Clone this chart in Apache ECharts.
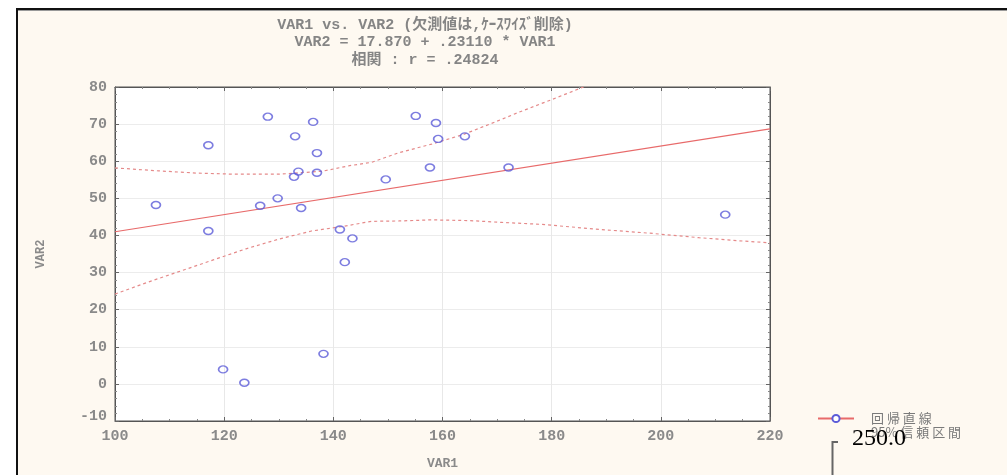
<!DOCTYPE html>
<html>
<head>
<meta charset="utf-8">
<script src="https://cdn.jsdelivr.net/npm/echarts@6/dist/echarts.min.js"></script>
<style>html,body{margin:0;padding:0;background:#fff;}#c{width:1007px;height:475px;}</style>
</head>
<body>
<div id="c"></div>
<script>
// scatter points (VAR1, VAR2)
const var1 = [107.5,117.1,117.1,128.0,126.6,129.8,133.0,133.6,132.8,134.1,136.3,137.0,137.0,141.2,143.5,142.1,149.6,155.1,158.8,159.2,157.7,164.1,172.1,211.8,138.2,119.8,123.7];
const var2 = [48.2,64.3,41.2,72.0,48.0,50.0,66.7,57.2,55.8,47.4,70.6,62.2,56.9,41.6,39.2,32.8,55.1,72.2,70.3,66.0,58.3,66.7,58.3,45.6,8.1,3.9,0.3];
// regression line end points
const fitX = [100, 220];
const fitY = [41.0, 68.7];
// 95% confidence band
const upX = [100,108,115,122,130,138,143,147,152,158,164,169,174,180,186,188];
const upY = [58.2,57.4,56.8,56.5,56.5,57.3,58.8,59.7,62.3,64.6,67.3,70.2,73.2,76.6,80.1,81.2];
const loX = [100,106,112,118,124,130,136,142,147,152,158,165,171,178,189,198,207,214,220];
const loY = [24.2,27.4,30.4,33.4,36.4,39.0,41.2,42.5,43.8,43.9,44.2,44.0,43.5,43.0,41.6,40.6,39.4,38.6,38.0];
const xTicks = {min:100, max:220, interval:20};
const yTicks = {min:-10, max:80, interval:10};

const zip = (a,b) => a.map((v,i)=>[v,b[i]]);
const txt = '#8a8a8a';
const mono = '"Liberation Mono", "Noto Sans CJK JP", monospace';

const chart = echarts.init(document.getElementById('c'));
chart.setOption({
  backgroundColor: '#ffffff',
  animation: false,
  graphic: [
    {type:'rect', z:-10, shape:{x:17, y:9, width:1000, height:480}, style:{fill:'#fef9f1'}},
    {type:'rect', z:-9, shape:{x:16, y:8, width:1000, height:2}, style:{fill:'#111'}},
    {type:'rect', z:-9, shape:{x:16, y:10, width:1000, height:1}, style:{fill:'#999'}},
    {type:'rect', z:-9, shape:{x:16, y:8, width:2, height:480}, style:{fill:'#111'}},
    {type:'polyline', z:50, shape:{points:[[838,442],[832.5,442],[832.5,476]]}, style:{stroke:'#666', lineWidth:2, fill:null}},
    {type:'text', z:51, x:852, y:439, style:{text:'250.0', font:'24px "Liberation Serif"', fill:'#000', verticalAlign:'middle'}}
  ],
  title: {
    text: 'VAR1 vs. VAR2 (欠測値は,ｹｰｽﾜｲｽﾞ削除)\nVAR2 = 17.870 + .23110 * VAR1\n相関 : r = .24824',
    left: 425, top: 16, padding: 0, textAlign: 'center',
    textStyle: {fontFamily: mono, fontSize: 15, fontWeight: 'bold', color: '#858585', lineHeight: 17.5}
  },
  legend: {
    orient: 'vertical', left: 817, top: 412, padding: 0, itemGap: 1,
    itemWidth: 36, itemHeight: 9,
    formatter: n => n.replace(/([^\s\d%])(?=[^\s\d%])/g, '$1 '),
    textStyle: {fontFamily: '"Noto Sans CJK JP"', fontSize: 13, color: '#7a7a7a', padding:[0,0,0,12]},
    data: [
      {name: '回帰直線'},
      {name: '95% 信頼区間', itemStyle:{opacity:0}, lineStyle:{opacity:0}}
    ]
  },
  grid: {left:115, top:87, width:655, height:340, show:true, backgroundColor:'#ffffff', borderColor:'#555', borderWidth:1},
  xAxis: [{
    type:'value', ...xTicks, name:'VAR1', nameLocation:'middle', nameGap:36,
    nameTextStyle:{fontFamily:mono, fontSize:13, fontWeight:'bold', color:txt},
    axisLine:{show:true, onZero:false, lineStyle:{color:'#555'}},
    axisTick:{show:true, inside:true, length:4, lineStyle:{color:'#666'}},
    minorTick:{show:true, splitNumber:4, length:2, lineStyle:{color:'#888'}},
    axisLabel:{margin:8, fontFamily:mono, fontSize:15, fontWeight:'bold', color:txt},
    splitLine:{show:true, lineStyle:{color:'#e8e8e8'}}
  },{
    type:'value', ...xTicks, position:'top',
    axisLine:{show:true, onZero:false, lineStyle:{color:'#555'}},
    axisTick:{show:true, inside:true, length:4, lineStyle:{color:'#666'}},
    minorTick:{show:true, splitNumber:4, length:2, lineStyle:{color:'#888'}},
    axisLabel:{show:false}, splitLine:{show:false}
  }],
  yAxis: [{
    type:'value', ...yTicks, name:'VAR2', nameLocation:'middle', nameGap:68,
    nameTextStyle:{fontFamily:mono, fontSize:12, fontWeight:'bold', color:txt},
    axisLine:{show:true, onZero:false, lineStyle:{color:'#555'}},
    axisTick:{show:true, inside:true, length:4, lineStyle:{color:'#666'}},
    minorTick:{show:true, splitNumber:5, length:2, lineStyle:{color:'#888'}},
    axisLabel:{margin:8, fontFamily:mono, fontSize:15, fontWeight:'bold', color:txt,
      formatter: v => v === -10 ? '{up|-10}' : String(v),
      rich:{up:{fontFamily:mono, fontSize:15, fontWeight:'bold', color:txt, padding:[0,0,10,0]}}},
    splitLine:{show:true, lineStyle:{color:'#ececec'}}
  },{
    type:'value', ...yTicks, position:'right',
    axisLine:{show:true, onZero:false, lineStyle:{color:'#555'}},
    axisTick:{show:true, inside:true, length:4, lineStyle:{color:'#666'}},
    minorTick:{show:true, splitNumber:5, length:2, lineStyle:{color:'#888'}},
    axisLabel:{show:false}, splitLine:{show:false}
  }],
  series: [
    {name:'95% 信頼区間', type:'line', data: zip(upX, upY), showSymbol:false, symbol:'none', clip:true,
      lineStyle:{color:'#e58a8a', width:1.2, type:[3,3]}, itemStyle:{color:'#e58a8a'}, z:3},
    {name:'95% 信頼区間', type:'line', data: zip(loX, loY), showSymbol:false, symbol:'none', clip:true,
      lineStyle:{color:'#e58a8a', width:1.2, type:[3,3]}, itemStyle:{color:'#e58a8a'}, z:3},
    {name:'回帰直線', type:'line', data: zip(fitX, fitY), showSymbol:false, symbol:'circle', symbolSize:[9,7],
      lineStyle:{color:'#e86a6a', width:1.2}, itemStyle:{color:'#ffffff', borderColor:'#5c5cd8', borderWidth:1.5}, z:4},
    {name:'VAR2', type:'scatter', data: zip(var1, var2), symbol:'circle', symbolSize:[9,7],
      itemStyle:{color:'rgba(255,255,255,0)', borderColor:'#5c5cd8', borderWidth:1.5}, z:5}
  ]
});
</script>
</body>
</html>
